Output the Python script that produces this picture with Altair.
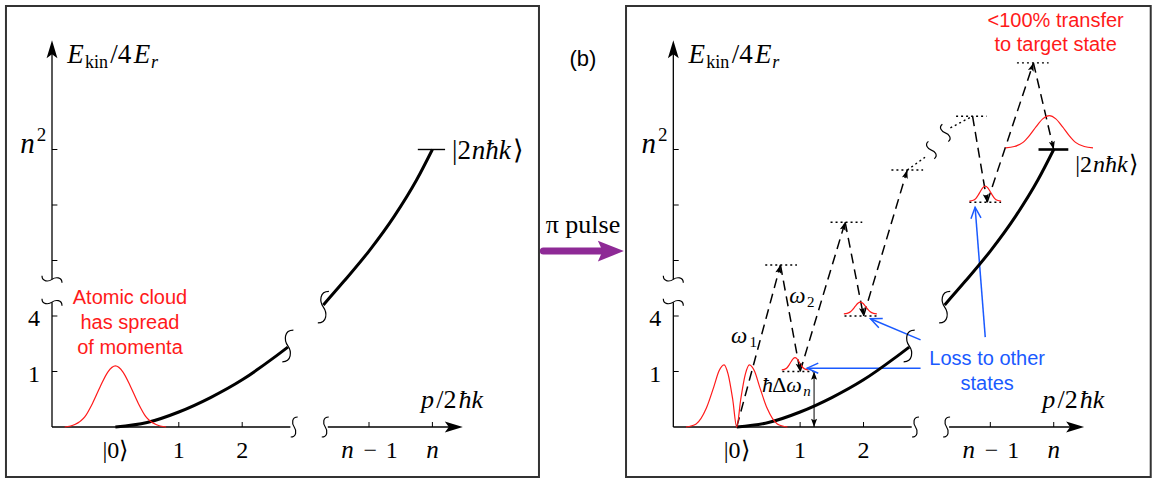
import altair as alt
import numpy as np
import pandas as pd

# ---------------- canvas and schematic units ----------------
W, H = 1155, 479
XU, YU = 63.4, 55.5      # px per momentum step (x) and per energy tick (y)
X0, Y0 = 52.0, 427.0     # where the axes of panel (a) cross, in px
SHIFT = 9.8              # x offset of panel (b), in units
XDOM = [-X0 / XU, (W - X0) / XU]
YDOM = [-(H - Y0) / YU, Y0 / YU]

# ---------------- diagram values (panel units) ----------------
# kinetic energy vs momentum, drawn in two pieces around the axis break
CURVE_LOW_X = [1.0, 1.5, 2.0, 2.5, 3.0, 3.5, 3.72]
CURVE_LOW_Y = [0.0, 0.08, 0.27, 0.53, 0.85, 1.25, 1.44]
CURVE_HIGH_X = [4.28, 4.6, 5.0, 5.4, 5.75, 6.0]
CURVE_HIGH_Y = [2.2, 2.62, 3.17, 3.8, 4.45, 5.0]

X_TICKS = [2, 3, 5, 6]
Y_TICKS = [1, 2, 3, 4, 5]
X_AXIS_SEGS = [(0.0, 3.76), (4.35, 6.36)]
Y_AXIS_SEGS = [(0.0, 2.25), (2.66, 6.8)]
X_AXIS_TIP, Y_AXIS_TIP = 6.48, 6.97
X_BREAKS = [3.82, 4.31]
Y_BREAKS = [2.25, 2.66]

# momentum-distribution profiles (fraction of half width -> fraction of height)
GAUSS_T = [-1.0, -0.8, -0.6, -0.45, -0.3, -0.15, 0.0, 0.15, 0.3, 0.45, 0.6, 0.8, 1.0]
GAUSS_H = [0.0, 0.04, 0.17, 0.39, 0.66, 0.9, 1.0, 0.9, 0.66, 0.39, 0.17, 0.04, 0.0]
HOLE_T = [-1.0, -0.8, -0.6, -0.45, -0.35, -0.25, -0.17, -0.08, 0.0,
          0.08, 0.17, 0.25, 0.35, 0.45, 0.6, 0.8, 1.0]
HOLE_H = [0.0, 0.05, 0.3, 0.65, 0.9, 1.0, 0.85, 0.45, 0.0,
          0.45, 0.85, 1.0, 0.9, 0.65, 0.3, 0.05, 0.0]
# (panel, profile, centre, base level, half width, height)
CLOUDS = [
    (0, "gauss", 1.0, 0.0, 0.80, 1.10),
    (1, "hole", 1.0, 0.0, 0.80, 1.12),
    (1, "gauss", 1.92, 1.03, 0.21, 0.22),
    (1, "gauss", 2.95, 2.04, 0.26, 0.21),
    (1, "gauss", 4.92, 4.07, 0.25, 0.27),
    (1, "gauss", 5.93, 5.03, 0.69, 0.58),
]

# sequential two-photon transitions in panel (b)
PULSE_X = [1.0, 1.69, 2.0, 2.71, 3.0, 3.69]
PULSE_Y = [0.0, 2.92, 1.0, 3.69, 2.0, 4.63]
LAST_X = [4.72, 4.95, 5.68, 6.0]
LAST_Y = [5.60, 4.05, 6.56, 5.0]
# dotted virtual / real levels: (centre, level, half width)
LEVELS = [(1.70, 2.92, 0.25), (2.73, 3.69, 0.25), (3.69, 4.63, 0.25),
          (4.70, 5.60, 0.24), (5.67, 6.56, 0.25),
          (1.965, 1.0, 0.245), (2.96, 2.0, 0.26), (4.92, 4.05, 0.25)]
ELLIPSIS = [((3.69, 4.63), (3.97, 4.86)), ((4.37, 5.39), (4.72, 5.60))]
ELLIPSIS_BREAKS = [(4.07, 4.99), (4.29, 5.30)]
DETUNING_X = 2.22

# blue "loss" pointers: (from, to)
LOSS_ARROWS = [((3.90, 1.06), (2.11, 1.06)),
               ((3.90, 1.57), (3.11, 1.95)),
               ((4.92, 1.62), (4.76, 3.96))]

RED = "#ff1a1a"
BLUE = "#1a5aff"
PURPLE = "#8e2a96"

XS = alt.Scale(domain=XDOM, nice=False, zero=False)
YS = alt.Scale(domain=YDOM, nice=False, zero=False)


def X(f="x"):
    return alt.X(f"{f}:Q", scale=XS, axis=None)


def Y(f="y"):
    return alt.Y(f"{f}:Q", scale=YS, axis=None)


def px(panel, u):
    return u + panel * SHIFT


def angle_of(x1, y1, x2, y2):
    return float(np.degrees(np.arctan2((x2 - x1) * XU, (y2 - y1) * YU)) % 360)


# ---------------- build tables ----------------
rules = []   # x, y, x2, y2, kind


def seg(kind, x1, y1, x2, y2):
    rules.append(dict(x=x1, y=y1, x2=x2, y2=y2, kind=kind))


heads = []   # x, y, angle, kind


def head(kind, x, y, ang):
    heads.append(dict(x=x, y=y, angle=ang, kind=kind))


squig = []   # x, y, angle, kind


for p in (0, 1):
    for a, b in X_AXIS_SEGS:
        seg("axis", px(p, a), 0, px(p, b), 0)
    for a, b in Y_AXIS_SEGS:
        seg("axis", px(p, 0), a, px(p, 0), b)
    head("axis", px(p, X_AXIS_TIP), 0, 90.0)
    head("axis", px(p, 0), Y_AXIS_TIP, 0.0)
    for t in X_TICKS:
        seg("tick", px(p, t), 0, px(p, t), 0.09)
    for t in Y_TICKS:
        seg("tick", px(p, 0), t, px(p, 0.085), t)
    for b in X_BREAKS:
        squig.append(dict(x=px(p, b), y=0, angle=0.0, kind="small"))
    for b in Y_BREAKS:
        squig.append(dict(x=px(p, 0), y=b, angle=90.0, kind="small"))
    squig.append(dict(x=px(p, CURVE_LOW_X[-1]), y=CURVE_LOW_Y[-1] + 0.02, angle=0.0, kind="big"))
    squig.append(dict(x=px(p, CURVE_HIGH_X[0]), y=CURVE_HIGH_Y[0] - 0.04, angle=0.0, kind="big"))

# target level bars
seg("bar_a", px(0, 5.77), 5.0, px(0, 6.2), 5.0)
seg("bar_b", px(1, 5.76), 5.0, px(1, 6.23), 5.0)

# dashed transitions with arrowheads at each end point
for xs, ys in ((PULSE_X, PULSE_Y), (LAST_X, LAST_Y)):
    for i in range(len(xs) - 1):
        x1, y1, x2, y2 = px(1, xs[i]), ys[i], px(1, xs[i + 1]), ys[i + 1]
        seg("dash", x1, y1, x2, y2)
        head("small", x2, y2, angle_of(x1, y1, x2, y2))
for c, lv, hw in LEVELS:
    seg("dot", px(1, c - hw), lv, px(1, c + hw), lv)
for (a, b) in ELLIPSIS:
    seg("dot", px(1, a[0]), a[1], px(1, b[0]), b[1])
for (bx, by) in ELLIPSIS_BREAKS:
    squig.append(dict(x=px(1, bx), y=by, angle=322.0, kind="tiny"))

# detuning marker
seg("thin", px(1, DETUNING_X), 0.0, px(1, DETUNING_X), 1.0)
head("small", px(1, DETUNING_X), 1.0, 0.0)
head("small", px(1, DETUNING_X), 0.0, 180.0)

# loss pointers
for (a, b) in LOSS_ARROWS:
    seg("blue", px(1, a[0]), a[1], px(1, b[0]), b[1])
    head("blue", px(1, b[0]), b[1], angle_of(px(1, a[0]), a[1], px(1, b[0]), b[1]))

# pi-pulse arrow between the panels
seg("purple", 7.75, 3.17, 8.66, 3.17)
head("purple", 9.02, 3.17, 90.0)

rules = pd.DataFrame(rules)
heads = pd.DataFrame(heads)
squig = pd.DataFrame(squig)

curve_rows = []
for p in (0, 1):
    for sid, (xs, ys) in enumerate(((CURVE_LOW_X, CURVE_LOW_Y), (CURVE_HIGH_X, CURVE_HIGH_Y))):
        for i, (u, v) in enumerate(zip(xs, ys)):
            curve_rows.append(dict(x=px(p, u), y=v, seg=f"{p}-{sid}", ord=i))
curve = pd.DataFrame(curve_rows)

cloud_rows = []
for k, (p, prof, c, base, hw, h) in enumerate(CLOUDS):
    ts, hs = (GAUSS_T, GAUSS_H) if prof == "gauss" else (HOLE_T, HOLE_H)
    for i, (t, f) in enumerate(zip(ts, hs)):
        cloud_rows.append(dict(x=px(p, c + t * hw), y=base + f * h, seg=k, ord=i))
clouds = pd.DataFrame(cloud_rows)

# ---------------- text ----------------
texts = []


def T(panel, u, v, text, size, font="Liberation Serif", italic=False,
      align="left", baseline="alphabetic", color="black"):
    texts.append(dict(x=px(panel, u), y=v, text=text, size=size, font=font,
                      style="italic" if italic else "normal",
                      align=align, baseline=baseline, color=color))


for p in (0, 1):
    # E_kin / 4 E_r
    T(p, 0.24, 6.56, "E", 27, italic=True)
    T(p, 0.52, 6.46, "kin", 18)
    T(p, 0.92, 6.56, "/4", 27)
    T(p, 1.29, 6.56, "E", 27, italic=True)
    T(p, 1.56, 6.46, "r", 18, italic=True)
    # n^2
    T(p, -0.50, 4.93, "n", 29, italic=True)
    T(p, -0.24, 5.15, "2", 19)
    T(p, -0.19, 1.82, "4", 24, align="right")
    T(p, -0.19, 0.81, "1", 24, align="right")
    T(p, 1.0, -0.56, "|0⟩", 24, align="center")
    T(p, 2.0, -0.56, "1", 24, align="center")
    T(p, 3.0, -0.56, "2", 24, align="center")
    T(p, 4.66, -0.56, "n", 25, italic=True, align="center")
    T(p, 5.02, -0.56, "−", 24, align="center")
    T(p, 5.36, -0.56, "1", 24, align="center")
    T(p, 6.0, -0.56, "n", 25, italic=True, align="center")
    # p / 2 hbar k
    T(p, 5.82, 0.34, "p", 26, italic=True)
    T(p, 6.06, 0.34, "/2", 26)
    T(p, 6.41, 0.34, "ħk", 26, italic=True)

T(0, 6.31, 4.83, "|2", 27)
T(0, 6.62, 4.83, "nħk", 27, italic=True)
T(0, 7.27, 4.83, "⟩", 27)
T(1, 6.34, 4.59, "|2", 24)
T(1, 6.62, 4.59, "nħk", 24, italic=True)
T(1, 7.19, 4.59, "⟩", 24)

# transition labels
T(1, 0.91, 1.51, "ω", 23, italic=True)
T(1, 1.20, 1.44, "1", 15)
T(1, 1.83, 2.23, "ω", 23, italic=True)
T(1, 2.11, 2.16, "2", 15)
T(1, 1.40, 0.63, "ħ", 22, italic=True)
T(1, 1.56, 0.63, "Δ", 22)
T(1, 1.78, 0.63, "ω", 22, italic=True)
T(1, 2.05, 0.56, "n", 15, italic=True)

SANS = "Liberation Sans"
for v, line in zip([2.32, 1.87, 1.43], ["Atomic cloud", "has spread", "of momenta"]):
    T(0, 1.23, v, line, 20, font=SANS, align="center", baseline="middle", color=RED)
for v, line in zip([7.32, 6.88], ["<100% transfer", "to target state"]):
    T(1, 6.03, v, line, 20, font=SANS, align="center", baseline="middle", color=RED)
for v, line in zip([1.23, 0.78], ["Loss to other", "states"]):
    T(1, 4.95, v, line, 20, font=SANS, align="center", baseline="middle", color=BLUE)

T(0, 8.375, 6.63, "(b)", 22, font=SANS, align="center", baseline="middle")
T(0, 8.375, 3.50, "π pulse", 26, align="center")

texts = pd.DataFrame(texts)

# ---------------- layers ----------------
frames = pd.DataFrame({
    "x": [-0.726, 9.054], "x2": [7.681, 17.33],
    "y": [-0.901, -0.901], "y2": [7.586, 7.586],
})
layers = [
    alt.Chart(frames).mark_rect(fillOpacity=0, stroke="#333333", strokeWidth=2)
    .encode(x=X(), x2="x2:Q", y=Y(), y2="y2:Q")
]

RULE_STYLE = {
    "axis": dict(color="black", strokeWidth=1.3),
    "tick": dict(color="black", strokeWidth=1.0),
    "bar_a": dict(color="black", strokeWidth=1.4),
    "bar_b": dict(color="black", strokeWidth=2.6),
    "dash": dict(color="black", strokeWidth=1.5, strokeDash=[10, 6]),
    "dot": dict(color="black", strokeWidth=1.4, strokeDash=[2, 3]),
    "thin": dict(color="black", strokeWidth=1.0),
    "blue": dict(color=BLUE, strokeWidth=1.5),
    "purple": dict(color=PURPLE, strokeWidth=7, strokeCap="round"),
}
for kind, style in RULE_STYLE.items():
    d = rules[rules.kind == kind]
    layers.append(alt.Chart(d).mark_rule(**style)
                  .encode(x=X(), y=Y(), x2="x2:Q", y2="y2:Q"))

layers.append(
    alt.Chart(curve).mark_line(color="black", strokeWidth=3, interpolate="monotone")
    .encode(x=X(), y=Y(), detail="seg:N", order="ord:Q"))
layers.append(
    alt.Chart(clouds).mark_line(color=RED, strokeWidth=1.2, interpolate="monotone")
    .encode(x=X(), y=Y(), detail="seg:N", order="ord:Q"))

SQUIGGLE = "M0.35,-1 C-0.25,-1 -0.25,-0.35 0,0 C0.25,0.35 0.25,1 -0.35,1"
for kind, size in (("small", 400), ("big", 1000), ("tiny", 300)):
    d = squig[squig.kind == kind]
    layers.append(
        alt.Chart(d).mark_point(shape=SQUIGGLE, size=size, filled=False, opacity=1,
                                color="black", strokeWidth=1.2)
        .encode(x=X(), y=Y(), angle=alt.Angle("angle:Q", scale=None)))

STEALTH = "M0,0 L0.3,1 L0,0.78 L-0.3,1 Z"
HEAD_STYLE = {
    "axis": dict(shape=STEALTH, size=1300, filled=True, color="black"),
    "small": dict(shape="M0,0 L0.36,1 L0,0.8 L-0.36,1 Z", size=280, filled=True, color="black"),
    "blue": dict(shape="M-0.45,1 L0,0 L0.45,1", size=500, filled=False, color=BLUE, strokeWidth=1.5),
    "purple": dict(shape="M0,0 L0.4,1 L0,0.82 L-0.4,1 Z", size=2704, filled=True, color=PURPLE),
}
for kind, style in HEAD_STYLE.items():
    d = heads[heads.kind == kind]
    layers.append(
        alt.Chart(d).mark_point(opacity=1, **style)
        .encode(x=X(), y=Y(), angle=alt.Angle("angle:Q", scale=None)))

for (font, style, align, baseline), d in texts.groupby(["font", "style", "align", "baseline"]):
    layers.append(
        alt.Chart(d).mark_text(font=font, fontStyle=style, align=align, baseline=baseline)
        .encode(x=X(), y=Y(), text="text:N",
                size=alt.Size("size:Q", scale=None),
                color=alt.Color("color:N", scale=None)))

chart = (
    alt.layer(*layers)
    .properties(width=W, height=H, autosize="none", padding=0, background="white")
    .configure_view(stroke="transparent")
)
chart.save("out.html", embed_options={"renderer": "svg", "actions": False})
